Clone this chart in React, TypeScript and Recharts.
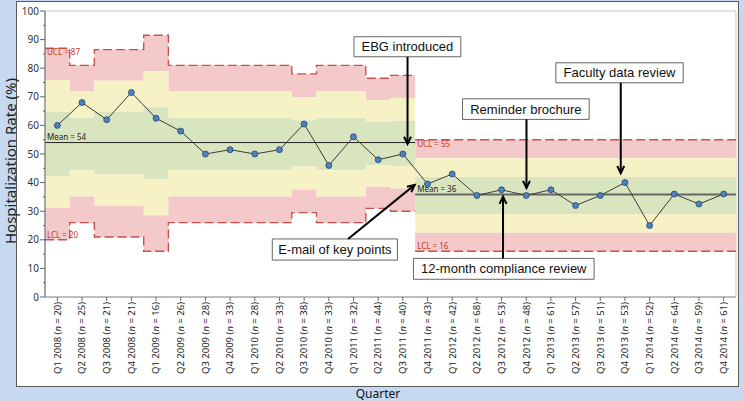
import { ComposedChart, Line, Area, XAxis, YAxis, ReferenceArea, ReferenceLine, ReferenceDot } from 'recharts'

const quarters = [
  'Q1 2008', 'Q2 2008', 'Q3 2008', 'Q4 2008',
  'Q1 2009', 'Q2 2009', 'Q3 2009', 'Q4 2009',
  'Q1 2010', 'Q2 2010', 'Q3 2010', 'Q4 2010',
  'Q1 2011', 'Q2 2011', 'Q3 2011', 'Q4 2011',
  'Q1 2012', 'Q2 2012', 'Q3 2012', 'Q4 2012',
  'Q1 2013', 'Q2 2013', 'Q3 2013', 'Q4 2013',
  'Q1 2014', 'Q2 2014', 'Q3 2014', 'Q4 2014',
]
const sampleSizes = [20, 25, 21, 21, 16, 26, 28, 33, 28, 33, 38, 33, 32, 44, 40, 43, 42, 68, 53, 48, 61, 57, 51, 53, 52, 64, 59, 61]
const hospitalizationRates = [60, 68, 62, 71.5, 62.5, 58, 50, 51.5, 50, 51.5, 60.5, 46, 56, 48, 50, 39.5, 43, 35.5, 37.5, 35.5, 37.5, 32, 35.5, 40, 25, 36, 32.5, 36]
const upperLimits = [87, 81, 86.5, 86.5, 91.5, 81, 81, 81, 81, 81, 78, 81, 81, 76.5, 77.5, 55, 55, 55, 55, 55, 55, 55, 55, 55, 55, 55, 55, 55]
const lowerLimits = [20, 26, 21, 21, 16, 26, 26, 26, 26, 26, 29.5, 26, 26, 31, 30, 16, 16, 16, 16, 16, 16, 16, 16, 16, 16, 16, 16, 16]
const phaseStart = [0, 15]
const phaseEnd = [15, 28]
const phaseMean = [54, 35.8]
const yTicks = [0, 5, 10, 15, 20, 25, 30, 35, 40, 45, 50, 55, 60, 65, 70, 75, 80, 85, 90, 95, 100]

// call-outs: box [x1, x2, yTop, yBottom] and arrow [xFrom, yFrom, xTo, yTo], in axis units
const notes = [
  { text: 'EBG introduced', box: [12.52, 16.85, 91, 84], arrow: [14.69, 84, 14.69, 53.5] },
  { text: 'E-mail of key points', box: [9.21, 14.28, 20.3, 12.9], arrow: [12.28, 20.3, 14.98, 39.2] },
  { text: 'Reminder brochure', box: [16.92, 22.05, 69.3, 62.1], arrow: [19.51, 62.1, 19.51, 38.1] },
  { text: 'Faculty data review', box: [20.7, 25.86, 81.9, 74.9], arrow: [23.33, 74.9, 23.33, 43.3] },
  { text: '12-month compliance review', box: [14.93, 22.25, 13.5, 6.2], arrow: [18.56, 13.5, 18.56, 35.1] },
]

const SANS = '"Noto Sans", "DejaVu Sans", sans-serif'
const ARIAL = '"Liberation Sans", Arial, sans-serif'
const meanColors = ['#222', '#666']
const meanWidths = [1, 2]

const pointRows = quarters.map((q, i) => ({ x: i + 0.5, rate: hospitalizationRates[i] }))

function zoneRow(i: number, x: number) {
  const hi = upperLimits[i]
  const lo = lowerLimits[i]
  const c = (hi + lo) / 2
  const s = (hi - lo) / 6
  return {
    x,
    redHi: [c + 2 * s, hi],
    yelHi: [c + s, c + 2 * s],
    green: [c - s, c + s],
    yelLo: [c - 2 * s, c - s],
    redLo: [lo, c - 2 * s],
  }
}
const zoneRows = quarters.flatMap((_, i) => [zoneRow(i, i), zoneRow(i, i + 1)])

function limitRows(p: number) {
  const rows: any[] = []
  for (let i = phaseStart[p]; i < phaseEnd[p]; i++) {
    rows.push({ x: i, ucl: upperLimits[i], lcl: lowerLimits[i] })
    rows.push({ x: i + 1, ucl: upperLimits[i], lcl: lowerLimits[i] })
  }
  return rows
}

function meanRows(p: number) {
  return [
    { x: phaseStart[p], mean: phaseMean[p] },
    { x: phaseEnd[p], mean: phaseMean[p] },
  ]
}

function QuarterTick(props: any) {
  const { x, y, payload } = props
  const i = Math.floor(payload.value)
  return (
    <text
      x={x}
      y={y}
      transform={`rotate(-90 ${x} ${y})`}
      textAnchor="end"
      dy="0.35em"
      fontSize={9.5}
      fill="#222"
      fontFamily={SANS}
    >
      {`${quarters[i]} (`}
      <tspan fontStyle="italic">n</tspan>
      {` = ${sampleSizes[i]})`}
    </text>
  )
}

function RateTick(props: any) {
  const { x, y, payload } = props
  const major = payload.value % 10 === 0
  return (
    <g>
      <line x1={major ? x + 1 : x + 4} x2={x + 6} y1={y} y2={y} stroke="#666" />
      {major && (
        <text x={x} y={y} dy="0.35em" textAnchor="end" fontSize={10} fill="#333" fontFamily={SANS}>
          {payload.value}
        </text>
      )}
    </g>
  )
}

function Arrow(props: any) {
  const { x1, y1, x2, y2 } = props
  const a = Math.atan2(y2 - y1, x2 - x1)
  const h = 8
  const w = 0.45
  const lx = x2 - h * Math.cos(a - w)
  const ly = y2 - h * Math.sin(a - w)
  const rx = x2 - h * Math.cos(a + w)
  const ry = y2 - h * Math.sin(a + w)
  return (
    <g>
      <line x1={x1} y1={y1} x2={x2} y2={y2} stroke="#000" strokeWidth={2} />
      <polyline points={`${lx},${ly} ${x2},${y2} ${rx},${ry}`} fill="none" stroke="#000" strokeWidth={2} />
    </g>
  )
}

function tag(text: string, color: string, dy: number) {
  return (props: any) => (
    <text x={props.cx + 2} y={props.cy + dy} fontSize={8} fill={color} fontFamily={SANS}>
      {text}
    </text>
  )
}

export default function App() {
  return (
    <div style={{ position: 'fixed', left: 0, top: 0, width: 744, height: 401, background: '#c6d9f1', overflow: 'hidden' }}>
      <div style={{ position: 'absolute', left: 16, top: 1, width: 721, height: 384, background: '#fff', border: '1px solid #5a5a5a' }} />
      <div style={{ position: 'absolute', left: 0, top: 0 }}>
        <ComposedChart width={744} height={401} margin={{ top: 11, right: 8, bottom: 14, left: 16 }}>
          <XAxis
            type="number"
            dataKey="x"
            domain={[0, 28]}
            ticks={quarters.map((_, i) => i + 0.5)}
            interval={0}
            height={90}
            tickSize={4}
            tickMargin={1}
            tick={<QuarterTick />}
            axisLine={{ stroke: '#999' }}
            tickLine={{ stroke: '#666' }}
            allowDataOverflow
          />
          <YAxis
            type="number"
            domain={[0, 100]}
            ticks={yTicks}
            interval={0}
            width={29}
            tickSize={5}
            tickMargin={1}
            tickLine={false}
            tick={<RateTick />}
            axisLine={{ stroke: '#666' }}
            allowDataOverflow
          />
          <ReferenceArea x1={0} x2={28} y1={0} y2={100} fill="none" stroke="#c8c8c8" />

          <Area data={zoneRows} dataKey="redHi" type="linear" stroke="none" fill="#f3c9c9" fillOpacity={1} dot={false} activeDot={false} isAnimationActive={false} />
          <Area data={zoneRows} dataKey="yelHi" type="linear" stroke="none" fill="#f7f2c6" fillOpacity={1} dot={false} activeDot={false} isAnimationActive={false} />
          <Area data={zoneRows} dataKey="green" type="linear" stroke="none" fill="#d9e5bf" fillOpacity={1} dot={false} activeDot={false} isAnimationActive={false} />
          <Area data={zoneRows} dataKey="yelLo" type="linear" stroke="none" fill="#f7f2c6" fillOpacity={1} dot={false} activeDot={false} isAnimationActive={false} />
          <Area data={zoneRows} dataKey="redLo" type="linear" stroke="none" fill="#f3c9c9" fillOpacity={1} dot={false} activeDot={false} isAnimationActive={false} />

          {phaseStart.map((_, p) => (
            <Line key={`u${p}`} data={limitRows(p)} dataKey="ucl" type="linear" stroke="#c9504d" strokeWidth={1.4} strokeDasharray="9 4" dot={false} activeDot={false} isAnimationActive={false} />
          ))}
          {phaseStart.map((_, p) => (
            <Line key={`l${p}`} data={limitRows(p)} dataKey="lcl" type="linear" stroke="#c9504d" strokeWidth={1.4} strokeDasharray="9 4" dot={false} activeDot={false} isAnimationActive={false} />
          ))}
          {phaseStart.map((_, p) => (
            <Line key={`m${p}`} data={meanRows(p)} dataKey="mean" type="linear" stroke={meanColors[p]} strokeWidth={meanWidths[p]} dot={false} activeDot={false} isAnimationActive={false} />
          ))}

          <Line
            data={pointRows}
            dataKey="rate"
            type="linear"
            stroke="#3c3c3c"
            strokeWidth={1}
            dot={{ r: 3, fill: '#4f81bd', stroke: '#24466f', strokeWidth: 0.8 }}
            activeDot={false}
            isAnimationActive={false}
          />

          {phaseStart.map((s, p) => (
            <ReferenceDot key={`tu${p}`} x={s} y={upperLimits[s]} r={0} ifOverflow="visible" shape={tag(`UCL = ${Math.round(upperLimits[s])}`, '#c0392b', 7)} />
          ))}
          {phaseStart.map((s, p) => (
            <ReferenceDot key={`tl${p}`} x={s} y={lowerLimits[s]} r={0} ifOverflow="visible" shape={tag(`LCL = ${Math.round(lowerLimits[s])}`, '#c0392b', -2)} />
          ))}
          {phaseStart.map((s, p) => (
            <ReferenceDot key={`tm${p}`} x={s} y={phaseMean[p]} r={0} ifOverflow="visible" shape={tag(`Mean = ${Math.round(phaseMean[p])}`, '#222', -3)} />
          ))}

          {notes.map((n) => (
            <ReferenceLine
              key={`a${n.text}`}
              segment={[{ x: n.arrow[0], y: n.arrow[1] }, { x: n.arrow[2], y: n.arrow[3] }]}
              ifOverflow="visible"
              shape={Arrow}
            />
          ))}
          {notes.map((n) => (
            <ReferenceArea
              key={`b${n.text}`}
              x1={n.box[0]}
              x2={n.box[1]}
              y1={n.box[3]}
              y2={n.box[2]}
              fill="#fff"
              fillOpacity={1}
              stroke="#666"
              ifOverflow="visible"
              label={{ value: n.text, position: 'center', fontSize: 13, fill: '#111', fontFamily: ARIAL }}
            />
          ))}
        </ComposedChart>
      </div>
      <div
        style={{
          position: 'absolute', left: 10, top: 161, transform: 'translate(-50%, -50%) rotate(-90deg)',
          whiteSpace: 'nowrap', fontSize: 15, lineHeight: '15px', fontFamily: SANS, color: '#222',
        }}
      >
        Hospitalization Rate (%)
      </div>
      <div
        style={{
          position: 'absolute', left: 378, top: 394, transform: 'translate(-50%, -50%)',
          whiteSpace: 'nowrap', fontSize: 12, lineHeight: '12px', fontFamily: SANS, color: '#111',
        }}
      >
        Quarter
      </div>
    </div>
  )
}
